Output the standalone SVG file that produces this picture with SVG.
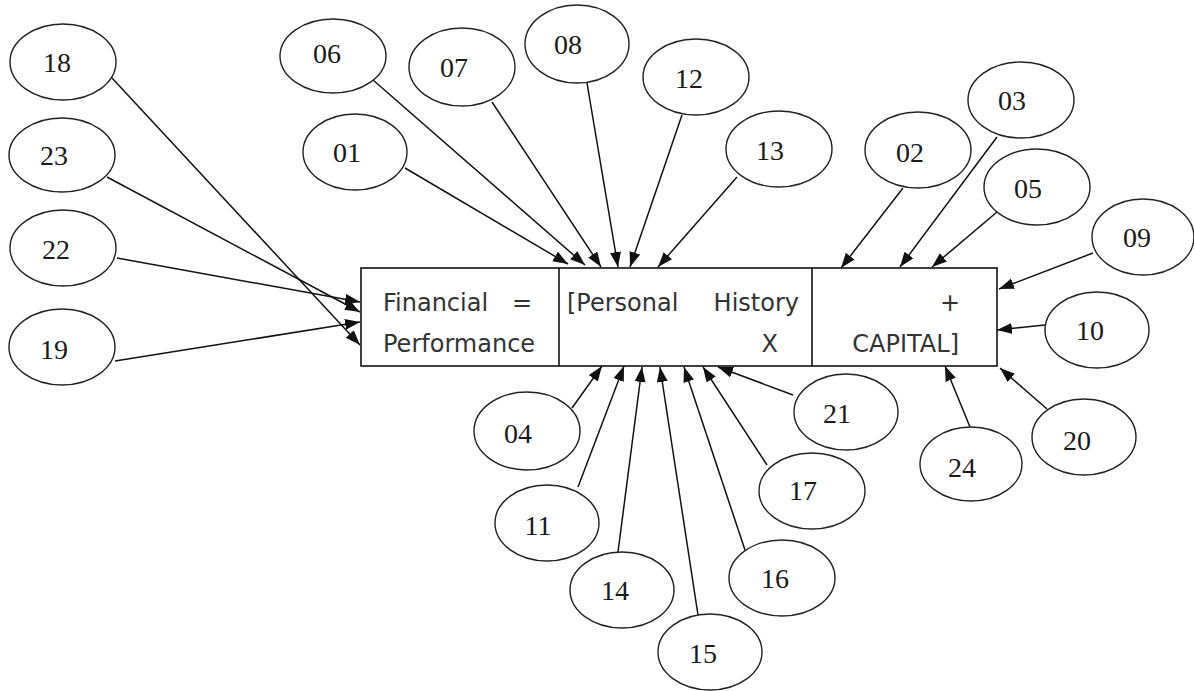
<svg xmlns="http://www.w3.org/2000/svg" width="1194" height="691" viewBox="0 0 1194 691">
<style>
.n ellipse{fill:#fff;stroke:#222;stroke-width:1.4}
.n text{font-family:"Liberation Serif","Times New Roman",serif;font-size:28px;fill:#1a1a1a;text-anchor:middle}
.c line{stroke:#111;stroke-width:1.5;marker-end:url(#ah)}
.b rect{fill:#fff;stroke:#111;stroke-width:1.6}
.b line{stroke:#111;stroke-width:1.6}
.b text{font-family:"DejaVu Sans",Verdana,sans-serif;font-size:24px;fill:#333}
</style>
<defs>
<marker id="ah" markerUnits="userSpaceOnUse" markerWidth="16" markerHeight="12" refX="15" refY="5.5" orient="auto" viewBox="0 0 16 12">
<path d="M0,0 L15,5.5 L0,11 z" fill="#111"/>
</marker>
</defs>
<rect width="1194" height="691" fill="#fff"/>
<g id="box" class="b">
<rect x="361" y="268" width="636" height="98"/>
<line x1="559" y1="268" x2="559" y2="366"/>
<line x1="812" y1="268" x2="812" y2="366"/>
<text x="383" y="311">Financial</text>
<text x="512" y="311">=</text>
<text x="383" y="352">Performance</text>
<text x="567" y="311">[Personal</text>
<text x="799" y="311" text-anchor="end">History</text>
<text x="778" y="352" text-anchor="end">X</text>
<text x="960" y="311" text-anchor="end">+</text>
<text x="959" y="352" text-anchor="end">CAPITAL]</text>
</g>
<g id="connectors" class="c">
<line x1="112" y1="78" x2="360" y2="345"/>
<line x1="107" y1="177" x2="360" y2="312"/>
<line x1="117" y1="258" x2="360" y2="302"/>
<line x1="115" y1="361" x2="360" y2="322"/>
<line x1="373" y1="80" x2="585" y2="265"/>
<line x1="405" y1="168" x2="568" y2="264"/>
<line x1="492" y1="102" x2="601" y2="267"/>
<line x1="587" y1="83" x2="618" y2="267"/>
<line x1="682" y1="115" x2="630" y2="267"/>
<line x1="737" y1="177" x2="658" y2="267"/>
<line x1="903" y1="188" x2="841" y2="268"/>
<line x1="997" y1="137" x2="900" y2="267"/>
<line x1="997" y1="212" x2="932" y2="267"/>
<line x1="1093" y1="253" x2="999" y2="289"/>
<line x1="1045" y1="325" x2="997" y2="330"/>
<line x1="1047" y1="409" x2="1000" y2="368"/>
<line x1="970" y1="427" x2="945" y2="366"/>
<line x1="572" y1="408" x2="602" y2="366"/>
<line x1="578" y1="487" x2="624" y2="366"/>
<line x1="618" y1="552" x2="642" y2="367"/>
<line x1="698" y1="615" x2="660" y2="367"/>
<line x1="745" y1="550" x2="684" y2="367"/>
<line x1="767" y1="465" x2="703" y2="367"/>
<line x1="793" y1="395" x2="718" y2="367"/>
</g>
<g id="n18" class="n"><ellipse cx="63" cy="62" rx="53" ry="38"/><text x="57" y="72">18</text></g>
<g id="n23" class="n"><ellipse cx="62" cy="155" rx="53" ry="37"/><text x="54" y="165">23</text></g>
<g id="n22" class="n"><ellipse cx="63" cy="248" rx="53" ry="38"/><text x="56" y="259">22</text></g>
<g id="n19" class="n"><ellipse cx="62" cy="347" rx="53" ry="38"/><text x="54" y="359">19</text></g>
<g id="n06" class="n"><ellipse cx="333" cy="56" rx="53" ry="37"/><text x="327" y="63">06</text></g>
<g id="n01" class="n"><ellipse cx="355" cy="152" rx="52" ry="38"/><text x="347" y="162">01</text></g>
<g id="n07" class="n"><ellipse cx="462" cy="67" rx="53" ry="39"/><text x="454" y="77">07</text></g>
<g id="n08" class="n"><ellipse cx="577" cy="44" rx="52" ry="39"/><text x="568" y="54">08</text></g>
<g id="n12" class="n"><ellipse cx="696" cy="77" rx="53" ry="38"/><text x="689" y="88">12</text></g>
<g id="n13" class="n"><ellipse cx="779" cy="149" rx="53" ry="38"/><text x="770" y="160">13</text></g>
<g id="n02" class="n"><ellipse cx="918" cy="150" rx="53" ry="38"/><text x="910" y="162">02</text></g>
<g id="n03" class="n"><ellipse cx="1021" cy="100" rx="53" ry="38"/><text x="1012" y="110">03</text></g>
<g id="n05" class="n"><ellipse cx="1037" cy="187" rx="53" ry="38"/><text x="1028" y="198">05</text></g>
<g id="n09" class="n"><ellipse cx="1143" cy="237" rx="51" ry="38"/><text x="1137" y="247">09</text></g>
<g id="n10" class="n"><ellipse cx="1097" cy="330" rx="52" ry="38"/><text x="1090" y="340">10</text></g>
<g id="n20" class="n"><ellipse cx="1084" cy="437" rx="52" ry="38"/><text x="1077" y="450">20</text></g>
<g id="n24" class="n"><ellipse cx="971" cy="464" rx="51" ry="37"/><text x="962" y="477">24</text></g>
<g id="n21" class="n"><ellipse cx="846" cy="412" rx="52" ry="38"/><text x="837" y="423">21</text></g>
<g id="n04" class="n"><ellipse cx="527" cy="431" rx="53" ry="39"/><text x="518" y="443">04</text></g>
<g id="n11" class="n"><ellipse cx="547" cy="523" rx="52" ry="38"/><text x="538" y="535">11</text></g>
<g id="n14" class="n"><ellipse cx="622" cy="590" rx="52" ry="38"/><text x="615" y="600">14</text></g>
<g id="n15" class="n"><ellipse cx="710" cy="652" rx="52" ry="38"/><text x="703" y="663">15</text></g>
<g id="n16" class="n"><ellipse cx="782" cy="578" rx="53" ry="38"/><text x="775" y="588">16</text></g>
<g id="n17" class="n"><ellipse cx="812" cy="491" rx="53" ry="38"/><text x="803" y="500">17</text></g>
</svg>
